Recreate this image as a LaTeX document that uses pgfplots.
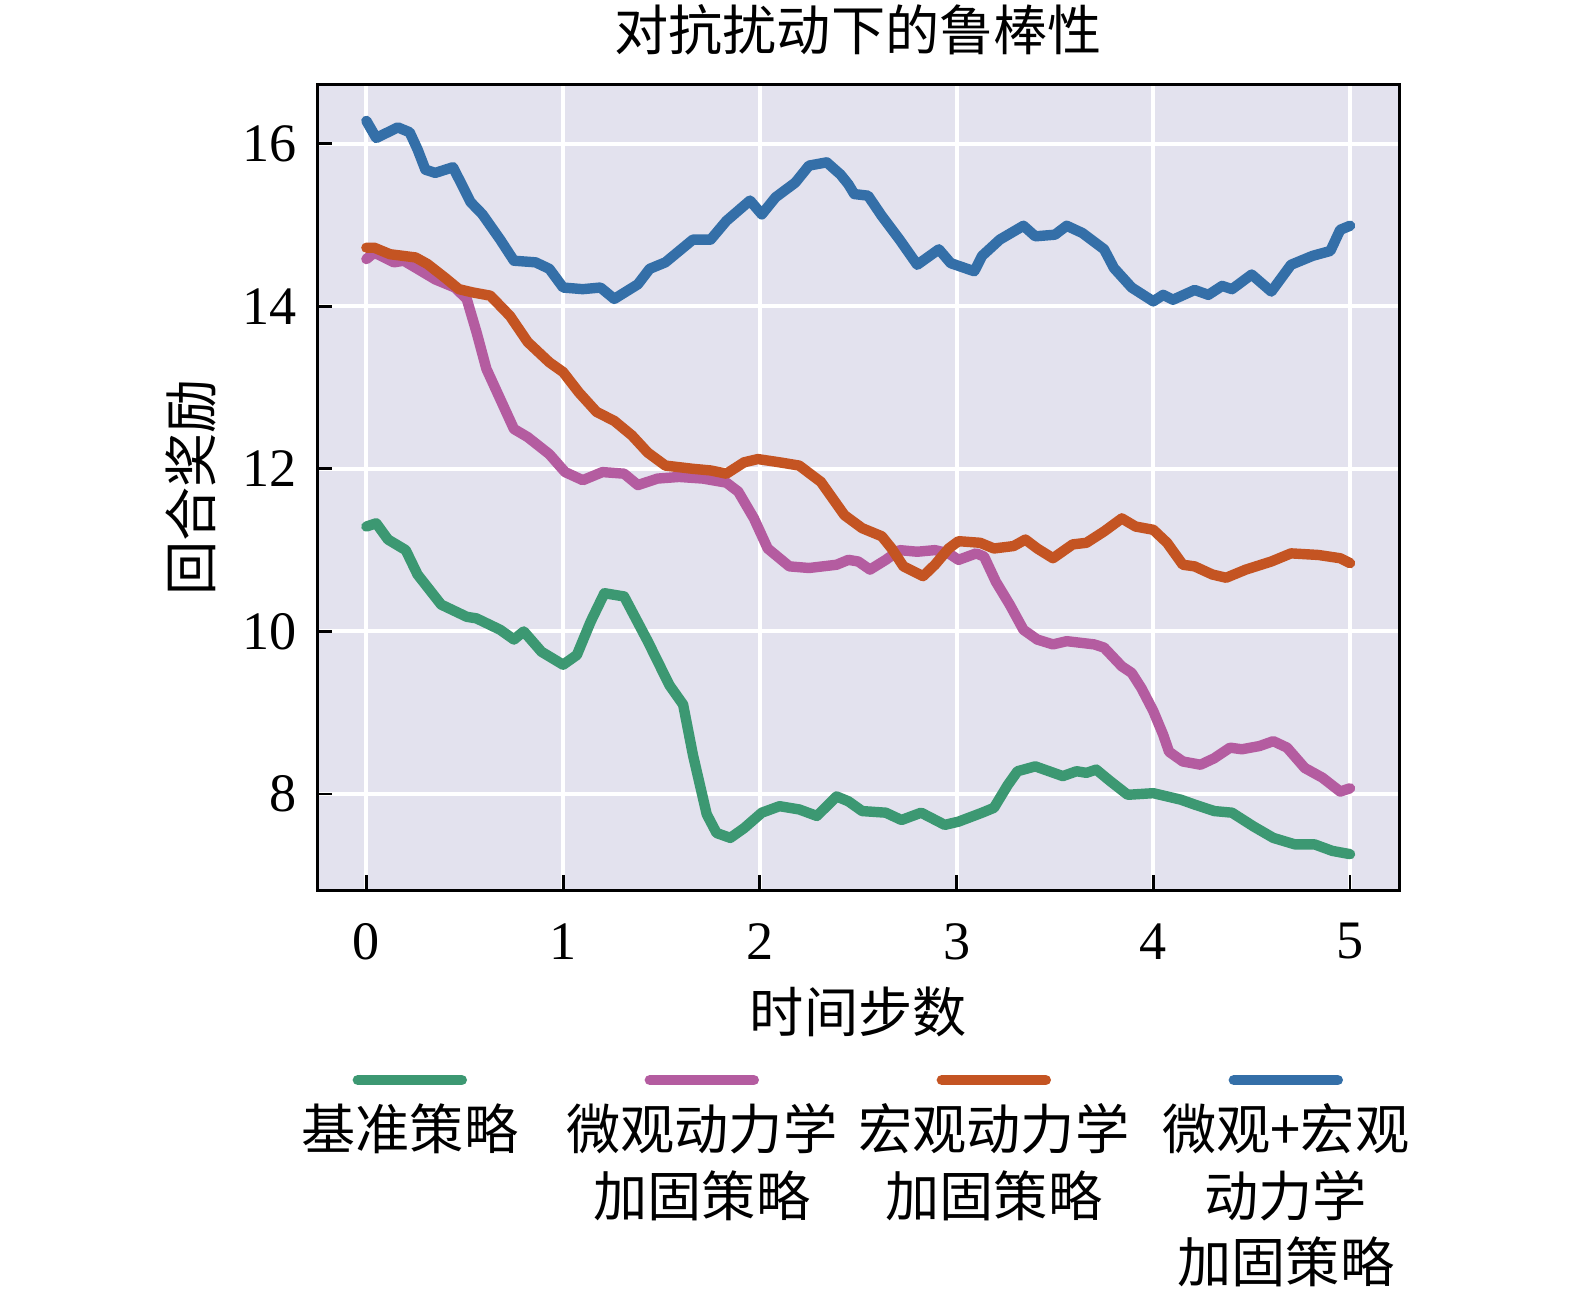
\documentclass[border=0pt]{standalone}
\usepackage{fontspec}
\setmainfont{Liberation Serif}
\newfontfamily\cjk{Noto Sans CJK SC}
\usepackage{pgfplots}
\usepackage{pgfplotstable}
\pgfplotsset{compat=1.18}
\definecolor{cgreen}{RGB}{60,152,114}
\definecolor{cpink}{RGB}{180,92,160}
\definecolor{corange}{RGB}{196,84,34}
\definecolor{cblue}{RGB}{52,111,168}
\definecolor{bgc}{RGB}{227,226,238}

\pgfplotstableread{
t v
0 11.29
0.05 11.33
0.11 11.13
0.20 11.00
0.26 10.70
0.38 10.33
0.51 10.18
0.56 10.16
0.68 10.02
0.75 9.90
0.80 10.00
0.89 9.75
1.00 9.59
1.07 9.71
1.14 10.12
1.21 10.47
1.31 10.43
1.43 9.88
1.54 9.34
1.61 9.10
1.66 8.48
1.73 7.75
1.78 7.52
1.85 7.46
1.92 7.58
2.01 7.77
2.10 7.85
2.20 7.81
2.29 7.73
2.39 7.97
2.45 7.91
2.52 7.79
2.64 7.77
2.72 7.68
2.82 7.77
2.94 7.62
3.01 7.66
3.13 7.77
3.19 7.83
3.26 8.11
3.31 8.28
3.40 8.34
3.54 8.22
3.61 8.28
3.66 8.26
3.71 8.30
3.78 8.16
3.87 7.99
4.00 8.01
4.14 7.93
4.21 7.87
4.31 7.79
4.40 7.77
4.51 7.60
4.61 7.46
4.72 7.38
4.82 7.38
4.91 7.30
5.00 7.26
}\greendata

\pgfplotstableread{
t v
0 14.58
0.04 14.66
0.14 14.54
0.19 14.56
0.26 14.46
0.35 14.33
0.45 14.23
0.51 14.09
0.56 13.68
0.61 13.23
0.68 12.86
0.75 12.49
0.82 12.39
0.93 12.18
1.01 11.96
1.10 11.86
1.20 11.96
1.31 11.94
1.38 11.80
1.48 11.88
1.59 11.90
1.71 11.88
1.83 11.83
1.89 11.72
1.97 11.39
2.04 11.02
2.15 10.80
2.25 10.78
2.39 10.82
2.45 10.88
2.50 10.86
2.56 10.76
2.64 10.88
2.71 11.00
2.80 10.98
2.89 11.00
2.96 10.96
3.01 10.88
3.10 10.96
3.14 10.92
3.20 10.61
3.27 10.33
3.34 10.02
3.41 9.90
3.49 9.84
3.56 9.88
3.70 9.84
3.75 9.80
3.84 9.57
3.89 9.49
3.94 9.30
4.00 9.02
4.05 8.73
4.08 8.52
4.15 8.40
4.24 8.36
4.31 8.44
4.39 8.57
4.45 8.55
4.54 8.59
4.61 8.65
4.68 8.57
4.77 8.32
4.86 8.20
4.95 8.03
5.00 8.07
}\pinkdata

\pgfplotstableread{
t v
0 14.72
0.04 14.72
0.12 14.64
0.25 14.60
0.31 14.52
0.40 14.35
0.47 14.21
0.54 14.17
0.63 14.13
0.73 13.88
0.82 13.56
0.93 13.31
1.00 13.19
1.08 12.94
1.17 12.70
1.26 12.59
1.35 12.41
1.43 12.20
1.52 12.04
1.66 12.00
1.75 11.98
1.83 11.94
1.92 12.08
1.99 12.12
2.10 12.08
2.20 12.04
2.31 11.84
2.43 11.43
2.52 11.27
2.62 11.17
2.67 11.02
2.73 10.80
2.83 10.68
2.89 10.82
2.96 11.02
3.01 11.11
3.12 11.09
3.19 11.02
3.29 11.05
3.35 11.13
3.41 11.02
3.49 10.90
3.59 11.07
3.66 11.09
3.75 11.23
3.84 11.39
3.91 11.29
4.00 11.25
4.07 11.09
4.15 10.82
4.21 10.80
4.30 10.70
4.37 10.66
4.47 10.76
4.60 10.86
4.70 10.96
4.84 10.94
4.95 10.90
5.00 10.84
}\orangedata

\pgfplotstableread{
t v
0 16.28
0.05 16.07
0.16 16.20
0.22 16.14
0.26 15.93
0.30 15.68
0.35 15.64
0.44 15.71
0.48 15.52
0.53 15.28
0.59 15.13
0.68 14.82
0.75 14.56
0.86 14.54
0.93 14.46
1.00 14.23
1.10 14.21
1.19 14.23
1.26 14.09
1.38 14.27
1.44 14.46
1.52 14.54
1.66 14.82
1.75 14.82
1.83 15.05
1.95 15.30
2.01 15.13
2.08 15.34
2.18 15.52
2.25 15.73
2.34 15.77
2.41 15.62
2.45 15.50
2.48 15.38
2.55 15.36
2.62 15.11
2.71 14.82
2.80 14.51
2.91 14.70
2.97 14.53
3.09 14.43
3.13 14.62
3.22 14.82
3.34 14.99
3.40 14.86
3.50 14.88
3.56 14.99
3.64 14.90
3.75 14.70
3.80 14.47
3.89 14.23
4.00 14.06
4.05 14.14
4.10 14.08
4.21 14.20
4.28 14.14
4.35 14.25
4.40 14.21
4.50 14.39
4.60 14.18
4.70 14.51
4.81 14.62
4.90 14.68
4.95 14.94
5.00 14.99
}\bluedata

\begin{document}
\begin{tikzpicture}[font=\fontsize{13.55}{16.56}\selectfont]
\useasboundingbox (-79.30pt,-101.92pt) rectangle (314.45pt,222.58pt);
\begin{axis}[
  at={(0,0)}, anchor=south west,
  scale only axis, width=270.51pt, height=201.5pt,
  xmin=-0.25, xmax=5.25, ymin=6.815, ymax=16.73,
  xtick={0,1,2,3,4,5}, ytick={8,10,12,14,16},
  axis background/.style={fill=bgc},
  grid=major, major grid style={white, line width=1pt},
  axis line style={black, line width=0.7pt},
  tick align=inside, xtick pos=bottom, ytick pos=left,
  major tick length=3.75pt,
  tick style={black, line width=0.7pt},
  /pgf/number format/assume math mode=true,
  xticklabel style={yshift=-4.75pt},
  yticklabel style={xshift=-1.5pt},
  title={\cjk 对抗扰动下的鲁棒性},
  title style={at={(axis description cs:0.5,1)}, anchor=base, yshift=2.5pt},
  xlabel={\cjk 时间步数},
  xlabel style={at={(axis description cs:0.5,-0.1507)}, anchor=center},
  ylabel={\cjk 回合奖励},
  ylabel style={at={(axis description cs:-0.1169,0.5)}, anchor=center, rotate=0},
  legend columns=4,
  legend cell align=left,
  legend style={at={(axis description cs:0.4904,-0.254)}, anchor=north,
    draw=none, fill=none, inner sep=0pt, font=\cjk\fontsize{13.55}{16.56}\selectfont,
    cells={anchor=west, inner sep=0pt},
    /tikz/every even column/.style={column sep=-1pt}},
  legend image code/.code={\draw[#1, overlay, line cap=round] (24pt,20.5pt) -- (50pt,20.5pt);},
  every axis plot/.append style={line width=2.6pt, line join=round, line cap=round},
]
\addplot[cgreen] table[x=t,y=v] {\greendata};
\addlegendentry{\parbox[c][48pt][t]{70pt}{\centering 基准策略}}
\addplot[cpink] table[x=t,y=v] {\pinkdata};
\addlegendentry{\parbox[c][48pt][t]{70pt}{\centering 微观动力学\\加固策略}}
\addplot[corange] table[x=t,y=v] {\orangedata};
\addlegendentry{\parbox[c][48pt][t]{70pt}{\centering 宏观动力学\\加固策略}}
\addplot[cblue] table[x=t,y=v] {\bluedata};
\addlegendentry{\parbox[c][48pt][t]{70pt}{\centering 微观+宏观\\动力学\\加固策略}}
\end{axis}
\end{tikzpicture}
\end{document}
